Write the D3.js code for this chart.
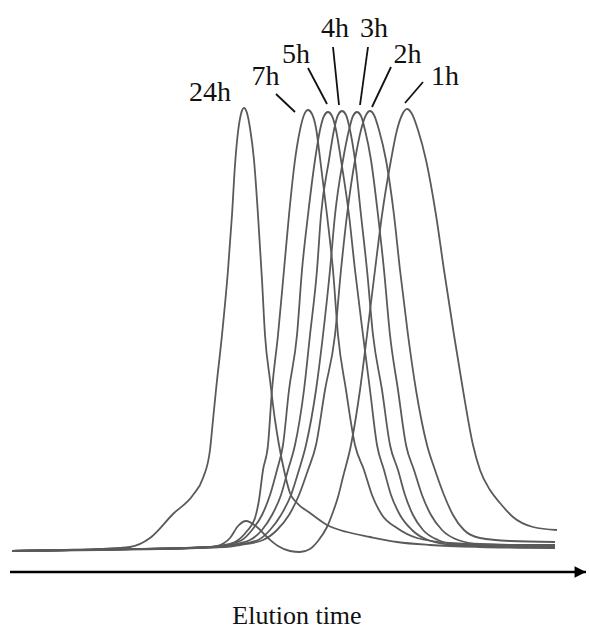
<!DOCTYPE html>
<html><head><meta charset="utf-8">
<script src="https://cdn.jsdelivr.net/npm/d3@7"></script>
<style>
html,body{margin:0;padding:0;background:#fff;}
svg{display:block;}
</style></head>
<body>
<svg id="chart" width="589" height="630"></svg>
<script>
// Series labels (reaction times)
const seriesNames = ["24h", "7h", "5h", "4h", "3h", "2h", "1h"];

// Chromatogram traces: [elution time (a.u.), detector signal (a.u.)]
const trace24h = [[0.6,-0.75],[3.0,-0.5],[5.0,-0.25],[6.5,0.25],[7.5,2.5],[8.65,8.5],[9.65,13.25],[10.15,17.5],[10.5,24.5],[10.65,32],[10.8,39.5],[11.1,53.25],[11.4,69.5],[11.6,83.25],[11.75,95.75],[11.9,104],[12.05,108.5],[12.2,110],[12.35,108.75],[12.5,105],[12.7,97],[12.9,83.25],[13.1,67],[13.25,53.25],[13.5,42],[13.75,32],[13.95,25.75],[14.2,19.5],[14.5,13.75],[14.85,11.25],[15.5,8.75],[16.35,5.75],[17.35,4],[18.5,2.75],[19.85,1.5],[21.5,0.75],[24.0,0.25],[27.75,0]];
const trace7h = [[0.6,-0.75],[5.0,-0.4],[10.0,0.1],[11.0,0.5],[11.75,1.5],[12.35,4.25],[12.75,7.5],[12.95,12],[13.15,19.5],[13.4,25.75],[13.6,39.5],[13.9,53.25],[14.2,69.5],[14.45,83.25],[14.75,97],[15.0,104.5],[15.2,108.25],[15.4,109.5],[15.6,108.5],[15.8,105],[16.0,97.5],[16.35,83.25],[16.65,69.5],[16.9,53.25],[17.3,39.5],[17.75,25.75],[18.2,19.5],[18.6,13.25],[19.1,8.25],[19.85,5],[20.85,2.5],[22.5,1.25],[25.0,0.75],[27.75,0.75]];
const trace5h = [[0.6,-0.75],[5.0,-0.4],[10.5,0.25],[11.25,0.75],[12.1,2],[12.6,4.5],[13.1,8.25],[13.5,13.25],[13.85,19.5],[14.15,25.75],[14.45,39.5],[14.85,53.25],[15.1,69.5],[15.4,83.25],[15.75,97],[16.0,104.5],[16.2,108],[16.4,109],[16.6,108],[16.8,104.5],[17.05,97],[17.45,83.25],[17.75,69.5],[18.15,53.25],[18.5,39.5],[18.85,25.75],[19.2,19.5],[19.55,13.25],[20.0,8.25],[20.6,4.5],[21.4,2],[22.75,0.75],[25.0,0.5],[27.75,0.5]];
const trace4h = [[0.6,-0.75],[5.0,-0.4],[10.75,0.25],[11.5,0.75],[12.5,2],[13.1,4.5],[13.6,8.25],[14.05,13.25],[14.4,19.5],[14.75,25.75],[15.2,39.5],[15.5,53.25],[15.85,69.5],[16.05,83.25],[16.45,97],[16.7,104.5],[16.9,108.25],[17.1,109.25],[17.3,108.25],[17.5,104.5],[17.75,97],[18.05,83.25],[18.35,69.5],[18.65,53.25],[19.1,39.5],[19.5,25.75],[19.9,19.5],[20.25,13.25],[20.65,8.25],[21.15,4.5],[21.9,2],[23.0,0.75],[25.0,0.5],[27.75,0.25]];
const trace3h = [[0.6,-0.75],[5.0,-0.4],[11.0,0.25],[11.75,0.75],[12.9,2],[13.5,4.5],[14.05,8.25],[14.55,13.25],[14.95,19.5],[15.3,25.75],[15.8,39.5],[16.15,53.25],[16.5,69.5],[16.75,83.25],[17.15,97],[17.45,104.5],[17.65,108],[17.85,109],[18.05,108],[18.25,104.5],[18.55,97],[18.9,83.25],[19.2,69.5],[19.5,53.25],[19.9,39.5],[20.3,25.75],[20.7,19.5],[21.1,13.25],[21.55,8.25],[22.1,4.5],[22.9,2],[24.0,1],[26.0,0.75],[27.75,0.75]];
const trace2h = [[0.6,-0.75],[5.0,-0.4],[11.25,0.25],[12.0,0.75],[13.15,2],[13.85,4.5],[14.45,8.25],[14.95,13.25],[15.4,19.5],[15.8,25.75],[16.25,39.5],[16.75,53.25],[17.05,69.5],[17.35,83.25],[17.75,97],[18.05,104.5],[18.3,108.25],[18.5,109.25],[18.7,108.25],[18.95,104.5],[19.3,97],[19.7,83.25],[20.0,69.5],[20.4,53.25],[20.8,39.5],[21.35,25.75],[21.75,19.5],[22.2,13.25],[22.65,8.25],[23.2,4.5],[24.0,2.5],[25.5,1.75],[27.75,1.5]];
const trace1h = [[0.6,-0.75],[5.0,-0.5],[10.25,0.1],[10.85,0.5],[11.5,2.5],[11.9,5.5],[12.3,6.75],[12.85,5.25],[13.35,2.75],[13.9,0.5],[14.5,-0.75],[15.0,-1],[15.5,-0.25],[15.9,1.75],[16.35,5.25],[16.65,9],[16.9,12.75],[17.15,17.75],[17.55,25.75],[18.0,39.5],[18.35,53.25],[18.75,69.5],[19.1,83.25],[19.55,97],[19.85,104.5],[20.1,108.25],[20.35,109.75],[20.6,108.5],[20.9,104.5],[21.3,97],[21.8,83.25],[22.2,69.5],[22.7,53.25],[23.15,39.5],[23.65,25.75],[24.0,19.5],[24.5,14.5],[25.0,11.25],[25.65,7.75],[26.65,5.25],[27.85,4.5]];

// Annotation anchors in data units: label text position and leader line (from -> to)
const labelPos = [[10.5,111.75],[13.275,115.75],[14.8,121.25],[16.75,127.75],[18.7,127.75],[20.375,121.25],[22.25,115.75]];
const leaderFrom = [null,[13.8,113.5],[15.4,120],[16.65,125.25],[18.4,125.25],[19.55,120.25],[21.15,116.5]];
const leaderTo   = [null,[14.75,109],[16.35,111],[16.95,110.75],[18.0,110.75],[18.6,110.25],[20.25,111.25]];

const axisTitle = "Elution time";

const traces = [trace24h, trace7h, trace5h, trace4h, trace3h, trace2h, trace1h];

const svg = d3.select("#chart");
const x = d3.scaleLinear().domain([0, 29.45]).range([0, 589]);
const y = d3.scaleLinear().domain([0, 110]).range([548, 108]);

const line = d3.line().x(d => x(d[0])).y(d => y(d[1])).curve(d3.curveMonotoneX);

svg.append("g").selectAll("path").data(traces).join("path")
  .attr("d", line)
  .attr("fill", "none")
  .attr("stroke", "#5a5a5a")
  .attr("stroke-width", 1.8)
  .attr("stroke-linejoin", "round");

// leader lines
svg.append("g").selectAll("line").data(seriesNames.map((n,i)=>({f:leaderFrom[i],t:leaderTo[i]})).filter(d=>d.f))
  .join("line")
  .attr("x1", d => x(d.f[0])).attr("y1", d => y(d.f[1]))
  .attr("x2", d => x(d.t[0])).attr("y2", d => y(d.t[1]))
  .attr("stroke", "#111").attr("stroke-width", 1.8);

// labels
svg.append("g").selectAll("text").data(seriesNames).join("text")
  .attr("x", (d,i) => x(labelPos[i][0]))
  .attr("y", (d,i) => y(labelPos[i][1]))
  .attr("text-anchor", "middle")
  .attr("font-family", "'Liberation Serif','Times New Roman',serif")
  .attr("font-size", 28)
  .attr("fill", "#111")
  .text(d => d);

// arrow axis
const defs = svg.append("defs");
defs.append("marker").attr("id","arrow").attr("viewBox","0 0 10 10")
  .attr("refX", 10).attr("refY", 5)
  .attr("markerWidth", 6).attr("markerHeight", 4.4).attr("markerUnits","strokeWidth")
  .attr("orient","auto")
  .append("path").attr("d","M0,0L10,5L0,10Z").attr("fill","#000");

svg.append("line")
  .attr("x1", x(0.5)).attr("x2", x(29.3))
  .attr("y1", 572).attr("y2", 572)
  .attr("stroke", "#000").attr("stroke-width", 2.6)
  .attr("marker-end", "url(#arrow)");

svg.append("text")
  .attr("x", 297).attr("y", 624)
  .attr("text-anchor", "middle")
  .attr("font-family", "'Liberation Serif','Times New Roman',serif")
  .attr("font-size", 26)
  .attr("fill", "#111")
  .text(axisTitle);
</script>
</body></html>
